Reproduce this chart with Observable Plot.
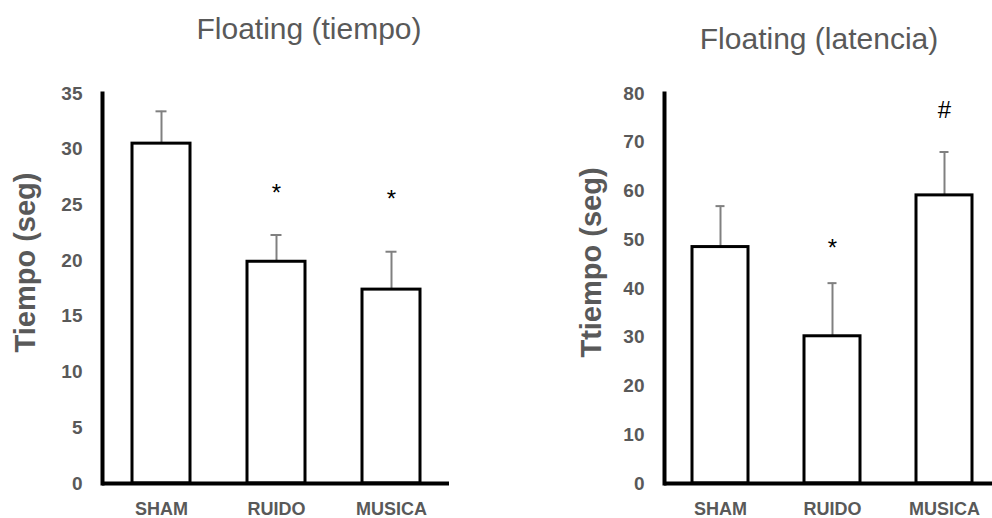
<!DOCTYPE html>
<html><head><meta charset="utf-8">
<script src="https://cdn.jsdelivr.net/npm/d3@7"></script>
<script src="https://cdn.jsdelivr.net/npm/@observablehq/plot@0.6"></script>
<style>
body{margin:0;background:#fff;}
#wrap{position:relative;width:992px;height:518px;overflow:hidden;background:#fff;font-family:"Liberation Sans",Arial,sans-serif;}
.title{position:absolute;font-size:30px;color:#595959;line-height:30px;white-space:nowrap;transform:translateX(-50%);}
.panel{position:absolute;top:0;}
</style></head>
<body><div id="wrap"></div>
<script>
const categories = ["SHAM", "RUIDO", "MUSICA"];

const tiempoTitle = "Floating (tiempo)";
const tiempoLabel = "Tiempo (seg)";
const tiempoMean = [30.5, 19.9, 17.4];
const tiempoSem = [2.9, 2.4, 3.4];
const tiempoMarks = ["", "*", "*"];
const tiempoMarkY = [null, 26.0, 25.5];
const tiempoTicks = [0, 5, 10, 15, 20, 25, 30, 35];

const latenciaTitle = "Floating (latencia)";
const latenciaLabel = "Ttiempo (seg)";
const latenciaMean = [48.5, 30.2, 59.1];
const latenciaSem = [8.4, 10.9, 8.9];
const latenciaMarks = ["", "*", "#"];
const latenciaMarkY = [null, 48.2, 76.5];
const latenciaTicks = [0, 10, 20, 30, 40, 50, 60, 70, 80];

function panel({means, sems, marks, markY, ticks, label, width, marginLeft, marginRight, labelDx}) {
  const data = categories.map((c, i) => ({cat: c, mean: means[i], top: means[i] + sems[i], mark: marks[i], markY: markY[i]}));
  return Plot.plot({
    width, height: 518,
    marginLeft, marginRight, marginTop: 93, marginBottom: 35,
    style: {fontFamily: '"Liberation Sans", Arial, sans-serif', color: "#595959", background: "transparent", overflow: "visible", fontWeight: "bold"},
    x: {domain: categories, paddingInner: 0.5, paddingOuter: 0.25, axis: null},
    y: {domain: [0, ticks[ticks.length - 1]], axis: null},
    marks: [
      Plot.axisY({ticks, tickSize: 0, tickPadding: 20, fontSize: 19, label: null, tickFormat: d => String(d)}),
      Plot.axisX({tickSize: 0, tickPadding: 19, fontSize: 18, label: null}),
      Plot.ruleX(data, {x: "cat", y1: "mean", y2: "top", stroke: "#808080", strokeWidth: 2}),
      Plot.tickY(data, {x: "cat", y: "top", stroke: "#808080", strokeWidth: 2, insetLeft: 23.5, insetRight: 23.5}),
      Plot.barY(data, {x: "cat", y: "mean", fill: "white", stroke: "black", strokeWidth: 3}),
      Plot.text(data.filter(d => d.mark), {x: "cat", y: "markY", text: "mark", fontSize: 24, fontWeight: "normal", fill: "black"}),
      Plot.ruleY([0], {stroke: "black", strokeWidth: 4}),
      Plot.frame({anchor: "left", stroke: "black", strokeWidth: 4}),
      Plot.text([label], {text: d => d, frameAnchor: "left", textAnchor: "middle", rotate: -90, dx: labelDx, dy: -26, fontSize: 29, fill: "#595959"})
    ]
  });
}

const wrap = document.getElementById("wrap");

const left = panel({means: tiempoMean, sems: tiempoSem, marks: tiempoMarks, markY: tiempoMarkY, ticks: tiempoTicks, label: tiempoLabel, width: 496, marginLeft: 102, marginRight: 47, labelDx: -77});
left.classList.add("panel"); left.style.left = "0px";
wrap.appendChild(left);

const right = panel({means: latenciaMean, sems: latenciaSem, marks: latenciaMarks, markY: latenciaMarkY, ticks: latenciaTicks, label: latenciaLabel, width: 504, marginLeft: 168, marginRight: 0, labelDx: -73});
right.classList.add("panel"); right.style.left = "496px";
wrap.appendChild(right);

function addTitle(text, cx, top) {
  const d = document.createElement("div");
  d.className = "title"; d.textContent = text;
  d.style.left = cx + "px"; d.style.top = top + "px";
  wrap.appendChild(d);
}
addTitle(tiempoTitle, 309, 14);
addTitle(latenciaTitle, 819, 24);
</script>
</body></html>
